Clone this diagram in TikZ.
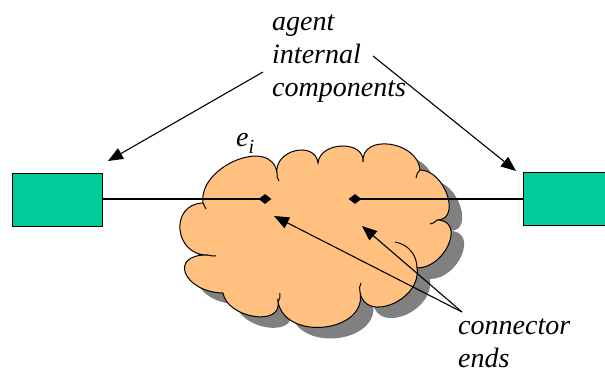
\documentclass[tikz,border=0pt]{standalone}
\usepackage{fontspec}
\setmainfont{Liberation Serif}
\usetikzlibrary{shapes.geometric,arrows.meta}
\definecolor{boxgreen}{RGB}{0,204,153}
\definecolor{cloudorange}{RGB}{255,192,128}
\definecolor{shadowgray}{RGB}{128,128,128}
\tikzset{
  compbox/.style={draw=black, line width=1.2pt, fill=boxgreen, minimum width=90pt, minimum height=53pt, inner sep=0pt},
  endmark/.style={diamond, fill=black, inner sep=0pt, minimum width=13pt, minimum height=10pt},
  lbl/.style={font=\fontsize{28}{33}\selectfont\itshape, inner sep=0pt, align=left},
  pointer/.style={line width=1.1pt, -{Triangle[length=15pt,width=12pt]}},
  wire/.style={line width=2pt}
}
\def\mycloudpath{(203,203)
  .. controls (198,166) and (272,136) .. (277,173)
  .. controls (274,150) and (315,140) .. (318,163)
  .. controls (320,141) and (365,140) .. (363,162)
  .. controls (361,133) and (418,141) .. (420,170)
  .. controls (445,170) and (462,220) .. (437,220)
  .. controls (466,220) and (446,268) .. (417,268)
  .. controls (422,300) and (365,324) .. (360,292)
  .. controls (368,332) and (286,342) .. (278,302)
  .. controls (282,327) and (227,318) .. (223,293)
  .. controls (183,292) and (168,254) .. (208,255)
  .. controls (174,256) and (169,204) .. cycle}
\begin{document}
\begin{tikzpicture}[x=1pt,y=-1pt]
\useasboundingbox (0,0) rectangle (605,374);
\clip (0,0) rectangle (605,374);
% cloud shadow and cloud
\fill[shadowgray, shift={(13,11)}] \mycloudpath;
\filldraw[fill=cloudorange, draw=black, line width=1pt] \mycloudpath;
% small inner hooks of the cloud
\begin{scope}[line width=1pt]
\draw (277,173) to[bend right=20] (279,181);
\draw (420,170) to[bend right=20] (416,178);
\draw (437,220) to[bend left=20] (430,224);
\draw (395,242) to[bend left=40] (417,268);
\draw (360,292) to[bend left=20] (361,283);
\draw (278,302) to[bend right=20] (280,293);
\draw (208,255) to[bend right=10] (216,256);
\draw (203,203) to[bend left=10] (206,209);
\end{scope}
% boxes
\node[compbox, anchor=north west] (lb) at (12,173) {};
\node[compbox, anchor=north west, minimum width=100pt] (rb) at (523,172) {};
% connector ends
\node[endmark] (d1) at (265,199) {};
\node[endmark] (d2) at (355,199) {};
\draw[wire] (lb.east |- d1) -- (d1.center);
\draw[wire] (d2.center) -- (rb.west |- d2);
% labels
\node[lbl, anchor=north west] (aic) at (272,15) {agent\\internal\\components};
\node[lbl, anchor=base west] (ei) at (236,147) {e\textsubscript{\fontsize{20}{20}\selectfont\raisebox{-3pt}{i}}};
\node[lbl, anchor=north west] (ce) at (458,319) {connector\\ends};
\coordinate (aicL) at (263,72);
\coordinate (aicR) at (373,56);
\coordinate (ceP) at (462,312);
\draw[pointer] (aicL) -- (108,161);
\draw[pointer] (aicR) -- (516,171);
\draw[pointer] (ceP) -- (274,216);
\draw[pointer] (ceP) -- (362,226);
\end{tikzpicture}
\end{document}
